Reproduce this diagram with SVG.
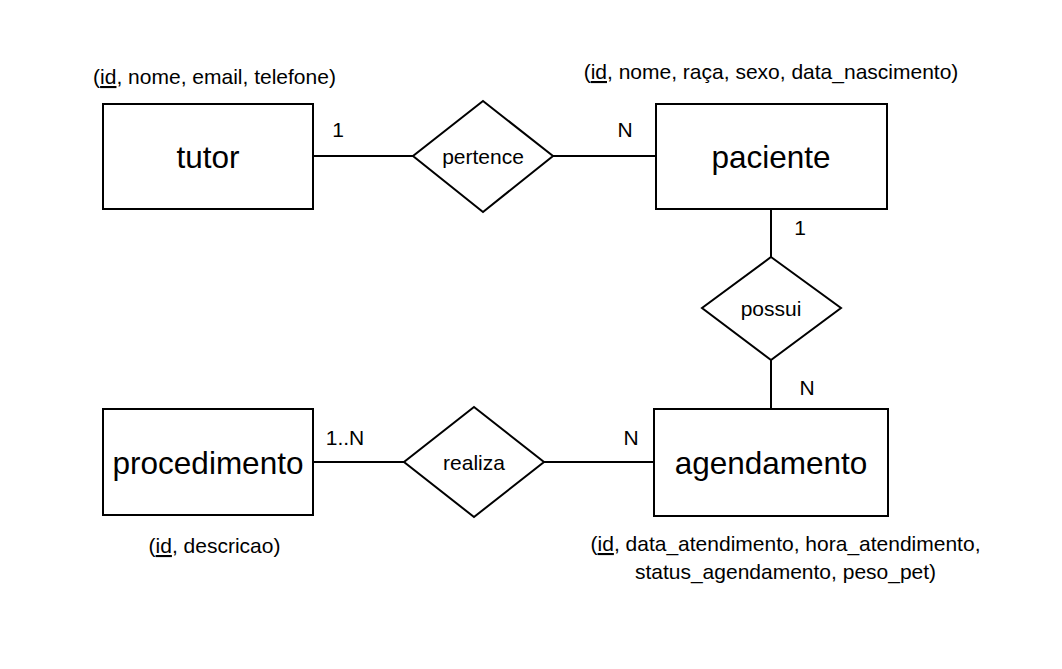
<svg xmlns="http://www.w3.org/2000/svg" width="1062" height="669" viewBox="0 0 1062 669">
<style>
.shape{fill:#fff;stroke:#000;stroke-width:2}
.line{stroke:#000;stroke-width:2;fill:none}
text{font-family:"Liberation Sans",Arial,sans-serif;fill:#000}
.ent{font-size:31.5px;text-anchor:middle}
.rel{font-size:21px;text-anchor:middle}
.attr{font-size:21px;text-anchor:middle}
.card{font-size:21px;text-anchor:middle}
</style>
<rect width="1062" height="669" fill="#fff"/>
<g id="connectors">
<line class="line" x1="313" y1="156" x2="413" y2="156"/>
<line class="line" x1="553" y1="156" x2="656" y2="156"/>
<line class="line" x1="771" y1="209" x2="771" y2="257"/>
<line class="line" x1="771" y1="360" x2="771" y2="409"/>
<line class="line" x1="313" y1="462" x2="404" y2="462"/>
<line class="line" x1="544" y1="462" x2="654" y2="462"/>
<text class="card" x="338" y="137">1</text>
<text class="card" x="625" y="137">N</text>
<text class="card" x="800" y="235">1</text>
<text class="card" x="807" y="395">N</text>
<text class="card" x="345" y="445">1..N</text>
<text class="card" x="631" y="445">N</text>
</g>
<g id="tutor">
<rect class="shape" x="103" y="104" width="210" height="105"/>
<text class="ent" x="208" y="168">tutor</text>
<text class="attr" x="214.5" y="84">(<tspan text-decoration="underline">id</tspan>, nome, email, telefone)</text>
</g>
<g id="pertence">
<polygon class="shape" points="483,101 553,156 483,212 413,156"/>
<text class="rel" x="483" y="164">pertence</text>
</g>
<g id="paciente">
<rect class="shape" x="656" y="104" width="231" height="105"/>
<text class="ent" x="771" y="168">paciente</text>
<text class="attr" x="771" y="79">(<tspan text-decoration="underline">id</tspan>, nome, raça, sexo, data_nascimento)</text>
</g>
<g id="possui">
<polygon class="shape" points="771,257 841,308 771,360 702,308"/>
<text class="rel" x="771" y="316">possui</text>
</g>
<g id="agendamento">
<rect class="shape" x="654" y="409" width="234" height="107"/>
<text class="ent" x="771" y="474">agendamento</text>
<text class="attr" x="785.5" y="551">(<tspan text-decoration="underline">id</tspan>, data_atendimento, hora_atendimento,</text>
<text class="attr" x="785.5" y="579">status_agendamento, peso_pet)</text>
</g>
<g id="realiza">
<polygon class="shape" points="474,407 544,462 474,517 404,462"/>
<text class="rel" x="474" y="470">realiza</text>
</g>
<g id="procedimento">
<rect class="shape" x="103" y="409" width="210" height="106"/>
<text class="ent" x="208" y="474">procedimento</text>
<text class="attr" x="214.5" y="553">(<tspan text-decoration="underline">id</tspan>, descricao)</text>
</g>
</svg>
